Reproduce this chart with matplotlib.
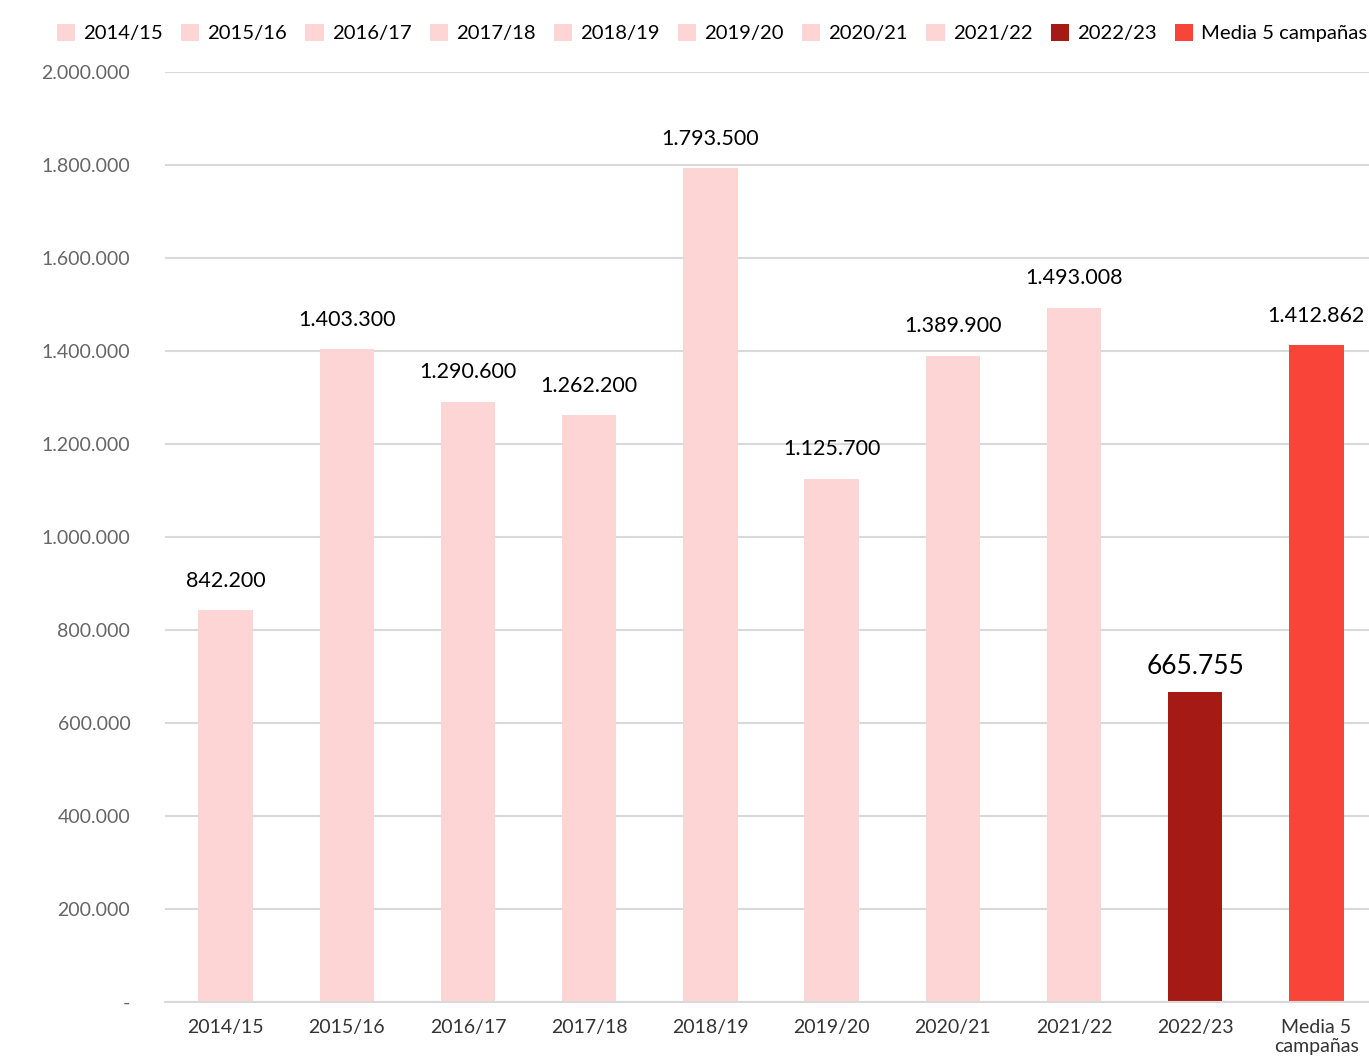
import numpy as np
import matplotlib.pyplot as plt
from matplotlib.ticker import FuncFormatter

plt.rcParams['font.family'] = ['Lato', 'DejaVu Sans']

campanas = ['2014/15', '2015/16', '2016/17', '2017/18', '2018/19',
            '2019/20', '2020/21', '2021/22', '2022/23', 'Media 5 campañas']
tick_labels = ['2014/15', '2015/16', '2016/17', '2017/18', '2018/19',
               '2019/20', '2020/21', '2021/22', '2022/23', 'Media 5\ncampañas']
valores = [842200, 1403300, 1290600, 1262200, 1793500,
           1125700, 1389900, 1493008, 665755, 1412862]

rosa = '#fdd5d4'
colores = [rosa] * 8 + ['#a51a15', '#f9443a']


def miles(v):
    if v == 0:
        return '-'
    return f'{int(v):,}'.replace(',', '.')


def main():
    fig = plt.figure(figsize=(13.69, 10.6), dpi=100)
    ax = fig.add_axes([165 / 1369, 58 / 1060, 1212 / 1369, 930 / 1060])

    x = np.arange(len(valores))
    bars = ax.bar(x, valores, width=0.45, color=colores, zorder=3)

    for i, (b, v) in enumerate(zip(bars, valores)):
        size = 19 if i == 8 else 15.5
        off = 10 if i == 8 else 14
        ax.annotate(miles(v), (b.get_x() + b.get_width() / 2, v),
                    xytext=(0, off), textcoords='offset points',
                    ha='center', va='bottom', fontsize=size, color='black')

    ax.set_xlim(-0.5, 9.5)
    ax.set_ylim(0, 2000000)
    ax.set_yticks(np.arange(0, 2000001, 200000))
    ax.yaxis.set_major_formatter(FuncFormatter(lambda v, p: miles(v)))
    ax.set_xticks(x)
    ax.set_xticklabels(tick_labels, fontsize=14, color='#333333', linespacing=1.2)
    ax.tick_params(axis='y', labelsize=14, colors='#666666', length=0, pad=25)
    ax.tick_params(axis='x', length=0, pad=12)

    ax.grid(axis='y', color='#d9d9d9', linewidth=1.5, zorder=0)
    for s in ['top', 'right', 'left']:
        ax.spines[s].set_visible(False)
    ax.spines['bottom'].set_color('#d9d9d9')
    ax.spines['bottom'].set_linewidth(1.5)
    ax.spines['bottom'].set_zorder(4)

    fig.legend(bars, campanas, loc='center', bbox_to_anchor=(712 / 1369, 1 - 33 / 1060),
               ncol=10, frameon=False, fontsize=14.6, handlelength=0.9, handleheight=0.9,
               handletextpad=0.4, columnspacing=0.9, borderaxespad=0, borderpad=0)

    fig.savefig('out.png', dpi=100)


if __name__ == "__main__":
    main()
